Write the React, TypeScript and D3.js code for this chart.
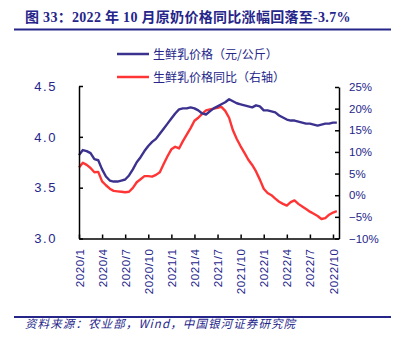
import React, { useEffect, useRef } from "react";
import * as d3 from "d3";

// Half-month steps from 2020/1 (index 0) to late 2022/10
const monthIndex: number[] = [
  0, 0.5, 1, 1.5, 2, 2.5, 3, 3.5, 4, 4.5, 5, 5.5, 6, 6.5, 7, 7.5, 8, 8.5, 9, 9.5,
  10, 10.5, 11, 11.5, 12, 12.5, 13, 13.5, 14, 14.5, 15, 15.5, 16, 16.5, 17, 17.5,
  18, 18.5, 19, 19.5, 20, 20.5, 21, 21.5, 22, 22.5, 23, 23.5, 24, 24.5, 25, 25.5,
  26, 26.5, 27, 27.5, 28, 28.5, 29, 29.5, 30, 30.5, 31, 31.5, 32, 32.5, 33, 33.5,
];

const priceValues: number[] = [
  3.82, 3.87, 3.86, 3.84, 3.78, 3.77, 3.68, 3.61, 3.57, 3.56, 3.56, 3.57, 3.58, 3.62,
  3.68, 3.75, 3.8, 3.86, 3.91, 3.95, 3.98, 4.03, 4.08, 4.13, 4.18, 4.23, 4.27, 4.28,
  4.28, 4.29, 4.28, 4.26, 4.23, 4.22, 4.25, 4.28, 4.3, 4.32, 4.34, 4.37, 4.35, 4.33,
  4.32, 4.31, 4.3, 4.29, 4.31, 4.3, 4.26, 4.26, 4.25, 4.24, 4.21, 4.19, 4.17, 4.16,
  4.16, 4.15, 4.14, 4.13, 4.13, 4.12, 4.11, 4.12, 4.13, 4.13, 4.14, 4.14,
];

const yoyValues: number[] = [
  6.4, 7.5, 7.0, 6.3, 5.3, 5.4, 3.2, 2.3, 1.5, 1.0, 0.9, 0.8, 0.7, 0.8, 1.7, 3.0,
  3.7, 4.4, 4.4, 4.3, 4.7, 5.3, 7.2, 9.0, 10.6, 11.2, 10.8, 12.5, 14.0, 15.5, 17.2,
  17.9, 18.8, 19.6, 19.8, 20.0, 20.2, 20.4, 19.5, 17.9, 15.0, 13.0, 11.3, 9.8, 8.2,
  7.0, 5.5, 3.6, 1.5, 0.5, 0.0, -0.8, -1.5, -2.0, -2.4, -1.6, -1.2, -2.0, -2.6, -3.2,
  -3.8, -4.3, -4.8, -5.5, -5.3, -4.5, -4.0, -3.7,
];

const xTickIndex: number[] = [0, 3, 6, 9, 12, 15, 18, 21, 24, 27, 30, 33];
const xTickLabels: string[] = [
  "2020/1", "2020/4", "2020/7", "2020/10", "2021/1", "2021/4", "2021/7", "2021/10",
  "2022/1", "2022/4", "2022/7", "2022/10",
];
const leftTicks: number[] = [3.0, 3.5, 4.0, 4.5];
const rightTicks: number[] = [-10, -5, 0, 5, 10, 15, 20, 25];

const titleText = "图 33：2022 年 10 月原奶价格同比涨幅回落至-3.7%";
const legendLabels: string[] = ["生鲜乳价格（元/公斤）", "生鲜乳价格同比（右轴）"];
const sourceText = "资料来源：农业部，Wind，中国银河证券研究院";

const NAVY = "#25258a";
const BLUE = "#3b318f";
const RED = "#ff3535";

export default function App() {
  const ref = useRef<SVGSVGElement | null>(null);

  const left = 79, right = 339, top = 86, bottom = 238.5;
  const x = d3.scaleLinear().domain([0, 33.78]).range([left, right]);
  const yL = d3.scaleLinear().domain([3, 4.5]).range([bottom, top]);
  const yR = d3.scaleLinear().domain([-10, 25]).range([bottom, 87]);

  useEffect(() => {
    const svg = d3.select(ref.current);
    svg.selectAll(".ax").remove();

    const font = "'Liberation Sans', Arial, sans-serif";

    const gl = svg.append("g").attr("class", "ax").attr("transform", `translate(${left},0)`);
    gl.call(
      d3.axisLeft(yL).tickValues(leftTicks).tickSizeInner(-4).tickSizeOuter(0).tickPadding(22)
        .tickFormat(d3.format(".1f"))
    );
    gl.select(".domain").attr("stroke", "#000").attr("stroke-width", 1.5);
    gl.selectAll(".tick line").attr("stroke", "#000").attr("stroke-width", 1.5);
    gl.selectAll(".tick text").attr("fill", NAVY).attr("font-family", font)
      .attr("font-size", 13).attr("letter-spacing", 1.6);

    const gr = svg.append("g").attr("class", "ax").attr("transform", `translate(${right},0)`);
    gr.call(
      d3.axisRight(yR).tickValues(rightTicks).tickSizeInner(-4).tickSizeOuter(0).tickPadding(10)
        .tickFormat((d: any) => (d < 0 ? "\u2212" + Math.abs(d) : String(d)) + "%")
    );
    gr.select(".domain").attr("stroke", "#000").attr("stroke-width", 1.5);
    gr.selectAll(".tick line").attr("stroke", "#000").attr("stroke-width", 1.5);
    gr.selectAll(".tick text").attr("fill", NAVY).attr("font-family", font).attr("font-size", 11.5);

    const gb = svg.append("g").attr("class", "ax").attr("transform", `translate(0,${bottom})`);
    gb.call(
      d3.axisBottom(x).tickValues(xTickIndex).tickSizeInner(-4).tickSizeOuter(0)
        .tickFormat((_d: any, i: number) => xTickLabels[i])
    );
    gb.select(".domain").attr("stroke", "#000").attr("stroke-width", 1.5);
    gb.selectAll(".tick line").attr("stroke", "#000").attr("stroke-width", 1.5);
    gb.selectAll(".tick text")
      .attr("fill", NAVY).attr("font-family", font).attr("font-size", 11.5)
      .attr("letter-spacing", 0.6)
      .attr("text-anchor", "end")
      .attr("y", 0).attr("dy", "0.35em")
      .attr("transform", "translate(0,10) rotate(-90)");
  }, []);

  const pts = monthIndex.map((m, i) => ({ m, p: priceValues[i], r: yoyValues[i] }));
  const linePrice = d3.line<any>().x((d) => x(d.m)).y((d) => yL(d.p)).curve(d3.curveLinear);
  const lineYoy = d3.line<any>().x((d) => x(d.m)).y((d) => yR(d.r)).curve(d3.curveLinear);

  const cjk = "'Noto Sans CJK SC', 'Liberation Serif', serif";

  return (
    <svg
      ref={ref}
      width={402}
      height={340}
      style={{ position: "absolute", left: 0, top: 0, background: "#fff" }}
    >
      <rect width={402} height={340} fill="#fff" />
      <text x={25} y={22} fill={NAVY} fontSize={14} fontWeight="bold" letterSpacing={0.3}
        fontFamily="'Liberation Serif', 'Noto Sans CJK SC', serif">
        {titleText}
      </text>
      <line x1={14} x2={391} y1={29.5} y2={29.5} stroke={NAVY} strokeWidth={2} />

      <path d={lineYoy(pts) || ""} fill="none" stroke={RED} strokeWidth={2.4} strokeLinejoin="round" />
      <path d={linePrice(pts) || ""} fill="none" stroke={BLUE} strokeWidth={2.4} strokeLinejoin="round" />

      <line x1={117} x2={149} y1={54} y2={54} stroke={BLUE} strokeWidth={2.5} />
      <text x={153} y={58.5} fill={NAVY} fontSize={12} fontFamily={cjk}>{legendLabels[0]}</text>
      <line x1={117} x2={149} y1={77} y2={77} stroke={RED} strokeWidth={2.5} />
      <text x={153} y={81.5} fill={NAVY} fontSize={12} fontFamily={cjk}>{legendLabels[1]}</text>

      <line x1={14} x2={391} y1={317} y2={317} stroke={NAVY} strokeWidth={2} />
      <text x={25} y={328} fill={NAVY} fontSize={11.5} fontStyle="italic" letterSpacing={1.1}
        fontFamily={cjk}>
        {sourceText}
      </text>
    </svg>
  );
}
